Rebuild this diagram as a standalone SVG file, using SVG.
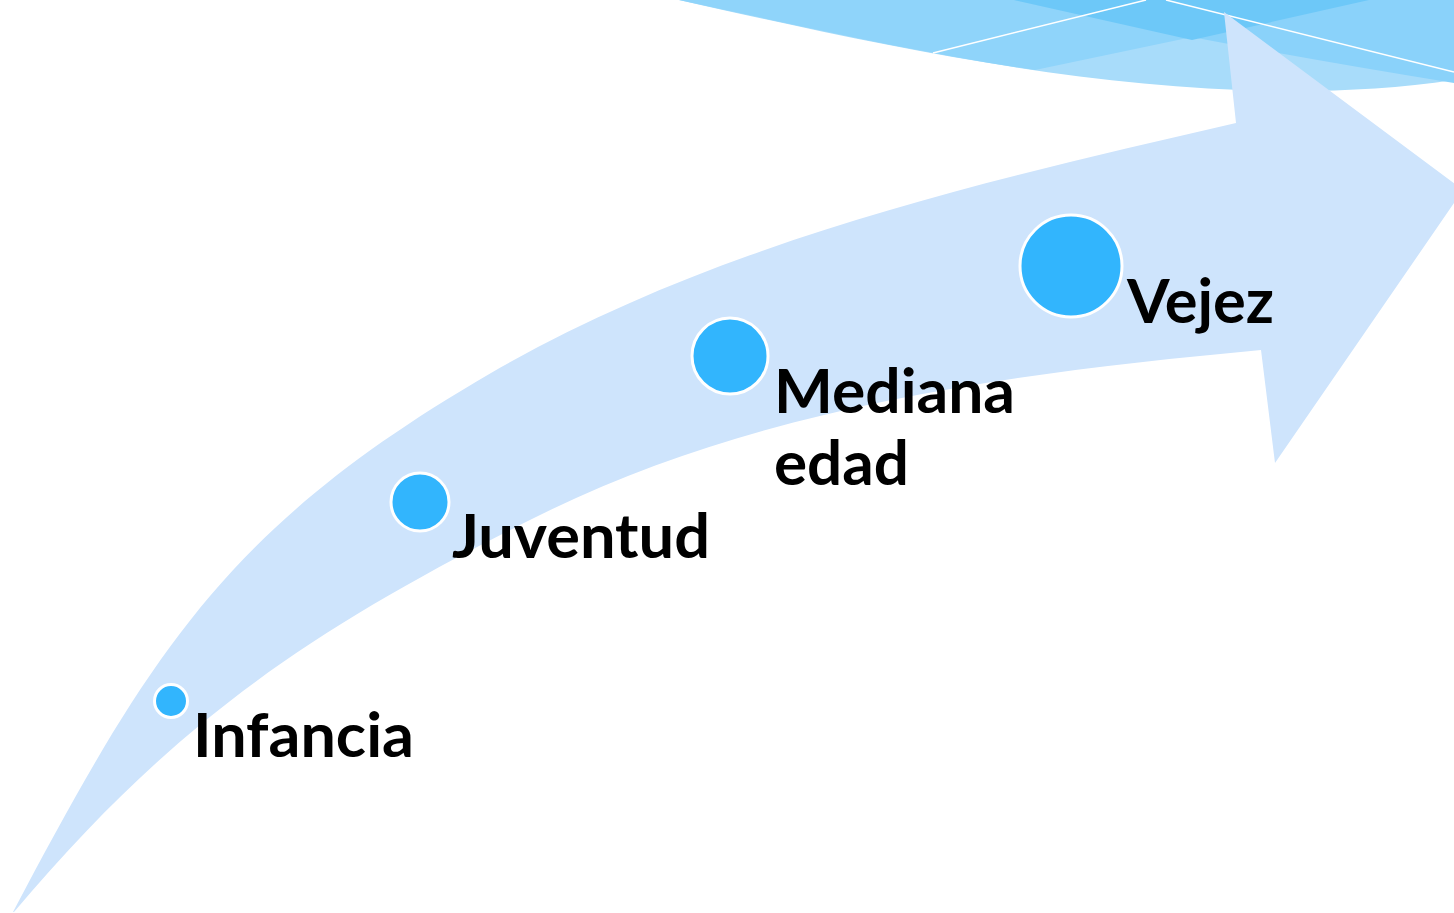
<svg xmlns="http://www.w3.org/2000/svg" width="1454" height="913" viewBox="0 0 1454 913">
  <style>
    .dot { fill: #32B5FD; stroke: #FFFFFF; stroke-width: 3; }
    .lbl { font-family: Lato, "Open Sans", "Liberation Sans", sans-serif; font-weight: 700; font-size: 61px; fill: #000000; }
    .wl { stroke: #FFFFFF; stroke-width: 1.5; fill: none; }
  </style>
  <rect width="1454" height="913" fill="#FFFFFF"/>
  <g id="decoration">
    <path d="M679,0 C900,50 1200,118 1454,80 L1454,0 Z" fill="#A8DCFA"/>
    <path d="M679,0 C800,26 920,53 1035,70 L1369,0 Z" fill="#8FD4FA"/>
    <path d="M1014,0 Q1200,42 1454,83 L1454,0 Z" fill="#8AD2FA"/>
    <path d="M1014,0 L1192,40 L1369,0 Z" fill="#6DC8F8"/>
    <line class="wl" x1="933" y1="53" x2="1146" y2="0"/>
    <line class="wl" x1="1166" y1="0" x2="1454" y2="72"/>
  </g>
  <g id="connectors">
    <path id="arrow" d="M13,912 C153,647 231,524 491,373 C718,242 981,182 1236,123 L1224,12 L1463,190 L1275,463 L1261,350 C1014,373 758,406 536,517 C312,629 175,721 14,912 Z" fill="#CEE4FC"/>
  </g>
  <g id="infancia">
    <circle class="dot" cx="171" cy="701" r="16.5"/>
    <text class="lbl" x="193" y="757" textLength="221" lengthAdjust="spacingAndGlyphs">Infancia</text>
  </g>
  <g id="juventud">
    <circle class="dot" cx="420" cy="502" r="29"/>
    <text class="lbl" x="452" y="558" textLength="258" lengthAdjust="spacingAndGlyphs">Juventud</text>
  </g>
  <g id="mediana">
    <circle class="dot" cx="730" cy="356" r="38"/>
    <text class="lbl" x="774" y="413" textLength="241" lengthAdjust="spacingAndGlyphs">Mediana</text>
    <text class="lbl" x="774" y="485" textLength="135" lengthAdjust="spacingAndGlyphs">edad</text>
  </g>
  <g id="vejez">
    <circle class="dot" cx="1071" cy="266" r="51"/>
    <text class="lbl" x="1127" y="323" textLength="147" lengthAdjust="spacingAndGlyphs">Vejez</text>
  </g>
</svg>
